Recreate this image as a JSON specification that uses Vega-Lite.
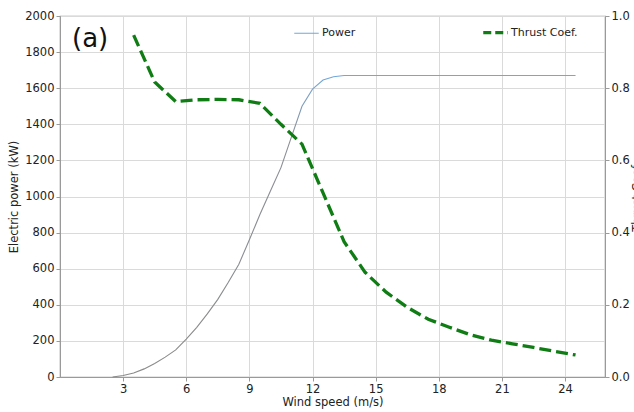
{
  "$schema": "https://vega.github.io/schema/vega-lite/v6.json",
  "width": 545,
  "height": 361,
  "autosize": "none",
  "padding": {"left": 60, "top": 16, "right": 29, "bottom": 35},
  "background": "white",
  "title": {"text": "(a)", "anchor": "start", "frame": "group", "orient": "top", "offset": -42, "dx": 12, "fontSize": 26, "fontWeight": "normal", "font": "DejaVu Sans", "color": "#111"},
  "config": {
    "font": "DejaVu Sans",
    "view": {"stroke": "#9a9a9a", "strokeWidth": 1.2},
    "axis": {
      "labelFont": "DejaVu Sans", "labelFontSize": 11.5, "labelColor": "#222",
      "titleFont": "DejaVu Sans", "titleFontSize": 11.5, "titleFontWeight": "normal", "titleColor": "#222",
      "domainColor": "#9a9a9a", "tickColor": "#9a9a9a", "tickSize": 4, "labelPadding": 2,
      "gridColor": "#dadada", "gridWidth": 1, "gridOpacity": 1, "labelOverlap": false
    },
    "legend": {"labelFont": "DejaVu Sans", "labelFontSize": 11, "labelColor": "#222"}
  },
  "datasets": {
    "power": [
      {"ws": 2.5, "kw": 0}, {"ws": 3, "kw": 8}, {"ws": 3.5, "kw": 22}, {"ws": 4, "kw": 45},
      {"ws": 4.5, "kw": 75}, {"ws": 5, "kw": 110}, {"ws": 5.5, "kw": 150}, {"ws": 6, "kw": 210},
      {"ws": 6.5, "kw": 275}, {"ws": 7, "kw": 350}, {"ws": 7.5, "kw": 430}, {"ws": 8, "kw": 525},
      {"ws": 8.5, "kw": 625}, {"ws": 9, "kw": 760}, {"ws": 9.5, "kw": 900}, {"ws": 10, "kw": 1030},
      {"ws": 10.5, "kw": 1160}, {"ws": 11, "kw": 1330}, {"ws": 11.5, "kw": 1500}, {"ws": 12, "kw": 1595},
      {"ws": 12.5, "kw": 1645}, {"ws": 13, "kw": 1663}, {"ws": 13.5, "kw": 1670}, {"ws": 14, "kw": 1670},
      {"ws": 15, "kw": 1670}, {"ws": 16, "kw": 1670}, {"ws": 17, "kw": 1670}, {"ws": 18, "kw": 1670},
      {"ws": 19, "kw": 1670}, {"ws": 20, "kw": 1670}, {"ws": 21, "kw": 1670}, {"ws": 22, "kw": 1670},
      {"ws": 23, "kw": 1670}, {"ws": 24, "kw": 1670}, {"ws": 24.5, "kw": 1670}
    ],
    "thrust": [
      {"ws": 3.5, "ct": 0.947}, {"ws": 4.5, "ct": 0.817}, {"ws": 5.5, "ct": 0.763}, {"ws": 6.5, "ct": 0.768},
      {"ws": 7.5, "ct": 0.769}, {"ws": 8.5, "ct": 0.768}, {"ws": 9.5, "ct": 0.758}, {"ws": 10.5, "ct": 0.70},
      {"ws": 11.5, "ct": 0.645}, {"ws": 12.5, "ct": 0.51}, {"ws": 13.5, "ct": 0.375}, {"ws": 14.5, "ct": 0.29},
      {"ws": 15.5, "ct": 0.235}, {"ws": 16.5, "ct": 0.193}, {"ws": 17.5, "ct": 0.16}, {"ws": 18.5, "ct": 0.138},
      {"ws": 19.5, "ct": 0.117}, {"ws": 20.5, "ct": 0.102}, {"ws": 21.5, "ct": 0.092}, {"ws": 22.5, "ct": 0.082},
      {"ws": 23.5, "ct": 0.071}, {"ws": 24.5, "ct": 0.061}
    ]
  },
  "layer": [
    {
      "data": {"name": "power"},
      "mark": {
        "type": "line", "strokeWidth": 1.1,
        "stroke": {"gradient": "linear", "x1": 0, "y1": 0, "x2": 0, "y2": 1,
          "stops": [{"offset": 0, "color": "#6fa8dc"}, {"offset": 0.05, "color": "#7aa3cc"}, {"offset": 0.2, "color": "#8a8e96"}, {"offset": 1, "color": "#8a8a8a"}]}
      },
      "encoding": {
        "x": {"field": "ws", "type": "quantitative", "scale": {"domain": [0, 25.9], "nice": false},
          "axis": {"values": [3, 6, 9, 12, 15, 18, 21, 24], "title": "Wind speed (m/s)", "grid": true, "titlePadding": 2}},
        "y": {"field": "kw", "type": "quantitative", "scale": {"domain": [0, 2000], "nice": false},
          "axis": {"values": [0, 200, 400, 600, 800, 1000, 1200, 1400, 1600, 1800, 2000], "format": "d", "labelOverlap": false, "title": "Electric power (kW)", "grid": true, "titlePadding": 5}}
      }
    },
    {
      "data": {"name": "thrust"},
      "mark": {"type": "line", "strokeWidth": 3.3, "strokeDash": [12, 5]},
      "encoding": {
        "x": {"field": "ws", "type": "quantitative"},
        "y": {"field": "ct", "type": "quantitative", "scale": {"domain": [0, 1], "nice": false},
          "axis": {"orient": "right", "values": [0, 0.2, 0.4, 0.6, 0.8, 1.0], "format": ".1f", "grid": false,
            "title": "Thrust Coef.", "titleAngle": 270, "titleBaseline": "top", "titlePadding": 2}},
        "color": {
          "datum": "Thrust Coef.",
          "scale": {"domain": ["Power", "Thrust Coef."], "range": ["#6fa8dc", "#0f7d14"]},
          "legend": {
            "title": null, "orient": "none", "legendX": 241, "legendY": 11, "direction": "horizontal",
            "symbolType": "stroke", "symbolSize": 600, "labelOffset": 10, "columnPadding": 120,
            "encode": {"symbols": {"update": {
              "strokeDash": {"signal": "datum.value === 'Thrust Coef.' ? [8, 4] : [1, 0]"},
              "strokeWidth": {"signal": "datum.value === 'Thrust Coef.' ? 3.2 : 1.2"}
            }}}
          }
        }
      }
    }
  ],
  "resolve": {"scale": {"y": "independent"}}
}
